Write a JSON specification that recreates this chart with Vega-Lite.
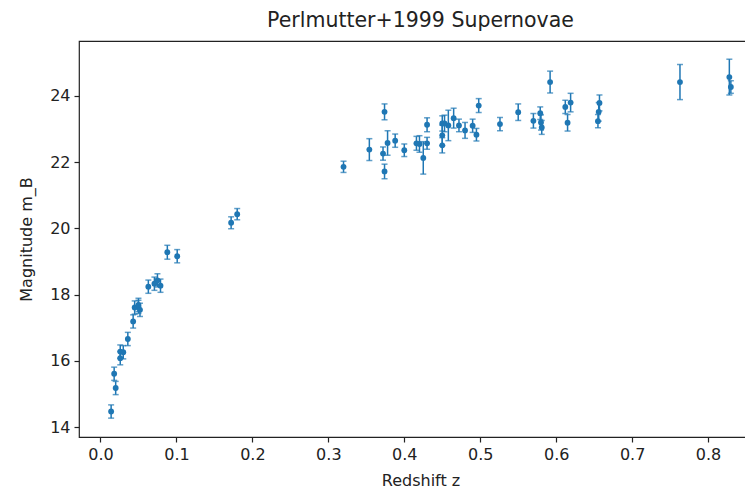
{
  "$schema": "https://vega.github.io/schema/vega-lite/v6.json",
  "width": 683,
  "height": 396,
  "autosize": "none",
  "padding": {"left": 79, "top": 41, "right": 0, "bottom": 53},
  "title": {"text": "Perlmutter+1999 Supernovae", "font": "DejaVu Sans", "fontSize": 20.5, "fontWeight": "normal", "color": "#222", "offset": 10, "anchor": "middle"},
  "config": {
    "view": {"stroke": "#222", "strokeWidth": 1.2},
    "axis": {"domain": false, "grid": false, "tickColor": "#222", "tickSize": 5, "tickWidth": 1.2, "labelFont": "DejaVu Sans", "labelFontSize": 16, "labelColor": "#222", "titleFont": "DejaVu Sans", "titleFontSize": 16, "titleFontWeight": "normal", "titleColor": "#222"}
  },
  "data": {"values": [
    {"name": "1990O", "z": 0.030, "m": 16.26, "err": 0.20},
    {"name": "1990af", "z": 0.050, "m": 17.63, "err": 0.20},
    {"name": "1992P", "z": 0.026, "m": 16.08, "err": 0.20},
    {"name": "1992ae", "z": 0.075, "m": 18.43, "err": 0.20},
    {"name": "1992ag", "z": 0.026, "m": 16.28, "err": 0.20},
    {"name": "1992al", "z": 0.014, "m": 14.47, "err": 0.20},
    {"name": "1992aq", "z": 0.101, "m": 19.16, "err": 0.20},
    {"name": "1992bc", "z": 0.020, "m": 15.18, "err": 0.20},
    {"name": "1992bg", "z": 0.036, "m": 16.66, "err": 0.20},
    {"name": "1992bh", "z": 0.045, "m": 17.61, "err": 0.20},
    {"name": "1992bl", "z": 0.043, "m": 17.19, "err": 0.20},
    {"name": "1992bo", "z": 0.018, "m": 15.61, "err": 0.20},
    {"name": "1992bp", "z": 0.079, "m": 18.27, "err": 0.20},
    {"name": "1992br", "z": 0.088, "m": 19.28, "err": 0.21},
    {"name": "1992bs", "z": 0.063, "m": 18.24, "err": 0.20},
    {"name": "1993B", "z": 0.071, "m": 18.33, "err": 0.20},
    {"name": "1993O", "z": 0.052, "m": 17.54, "err": 0.20},
    {"name": "1993ag", "z": 0.050, "m": 17.69, "err": 0.20},
    {"name": "1992bi", "z": 0.458, "m": 23.11, "err": 0.46},
    {"name": "1994F", "z": 0.354, "m": 22.38, "err": 0.33},
    {"name": "1994G", "z": 0.425, "m": 22.13, "err": 0.49},
    {"name": "1994H", "z": 0.374, "m": 21.72, "err": 0.22},
    {"name": "1994al", "z": 0.420, "m": 22.55, "err": 0.25},
    {"name": "1994am", "z": 0.372, "m": 22.26, "err": 0.20},
    {"name": "1994an", "z": 0.378, "m": 22.58, "err": 0.37},
    {"name": "1995aq", "z": 0.453, "m": 23.17, "err": 0.25},
    {"name": "1995ar", "z": 0.465, "m": 23.33, "err": 0.30},
    {"name": "1995as", "z": 0.498, "m": 23.71, "err": 0.21},
    {"name": "1995at", "z": 0.655, "m": 23.24, "err": 0.20},
    {"name": "1995aw", "z": 0.400, "m": 22.36, "err": 0.19},
    {"name": "1995ax", "z": 0.615, "m": 23.19, "err": 0.25},
    {"name": "1995ay", "z": 0.480, "m": 22.96, "err": 0.24},
    {"name": "1995az", "z": 0.450, "m": 22.51, "err": 0.23},
    {"name": "1995ba", "z": 0.388, "m": 22.65, "err": 0.20},
    {"name": "1996cf", "z": 0.570, "m": 23.25, "err": 0.22},
    {"name": "1996cg", "z": 0.490, "m": 23.10, "err": 0.20},
    {"name": "1996ci", "z": 0.495, "m": 22.83, "err": 0.19},
    {"name": "1996ck", "z": 0.656, "m": 23.52, "err": 0.28},
    {"name": "1996cl", "z": 0.828, "m": 24.57, "err": 0.54},
    {"name": "1996cm", "z": 0.450, "m": 23.17, "err": 0.23},
    {"name": "1996cn", "z": 0.430, "m": 23.13, "err": 0.21},
    {"name": "1997F", "z": 0.580, "m": 23.20, "err": 0.23},
    {"name": "1997G", "z": 0.763, "m": 24.42, "err": 0.53},
    {"name": "1997H", "z": 0.526, "m": 23.15, "err": 0.20},
    {"name": "1997I", "z": 0.172, "m": 20.17, "err": 0.18},
    {"name": "1997J", "z": 0.619, "m": 23.80, "err": 0.28},
    {"name": "1997K", "z": 0.592, "m": 24.42, "err": 0.33},
    {"name": "1997L", "z": 0.550, "m": 23.51, "err": 0.25},
    {"name": "1997N", "z": 0.180, "m": 20.43, "err": 0.17},
    {"name": "1997O", "z": 0.374, "m": 23.52, "err": 0.24},
    {"name": "1997P", "z": 0.472, "m": 23.11, "err": 0.19},
    {"name": "1997Q", "z": 0.430, "m": 22.57, "err": 0.18},
    {"name": "1997R", "z": 0.657, "m": 23.79, "err": 0.24},
    {"name": "1997S", "z": 0.612, "m": 23.67, "err": 0.20},
    {"name": "1997ac", "z": 0.320, "m": 21.86, "err": 0.17},
    {"name": "1997af", "z": 0.579, "m": 23.48, "err": 0.19},
    {"name": "1997ai", "z": 0.450, "m": 22.81, "err": 0.31},
    {"name": "1997aj", "z": 0.581, "m": 23.05, "err": 0.21},
    {"name": "1997am", "z": 0.416, "m": 22.57, "err": 0.21},
    {"name": "1997ap", "z": 0.830, "m": 24.27, "err": 0.19}
  ]},
  "encoding": {
    "x": {"field": "z", "type": "quantitative", "title": "Redshift z",
      "scale": {"domain": [-0.0283, 0.871], "nice": false, "zero": false},
      "axis": {"values": [0, 0.1, 0.2, 0.3, 0.4, 0.5, 0.6, 0.7, 0.8], "format": ".1f", "labelPadding": 4, "titlePadding": 10}},
    "y": {"field": "m", "type": "quantitative", "title": "Magnitude m_B",
      "scale": {"domain": [13.70, 25.66], "nice": false, "zero": false},
      "axis": {"values": [14, 16, 18, 20, 22, 24], "format": "d", "labelPadding": 4, "titlePadding": 15}}
  },
  "layer": [
    {"mark": {"type": "errorbar", "ticks": {"size": 6, "thickness": 1.5}, "rule": {"strokeWidth": 1.5}, "color": "#1f77b4"},
     "encoding": {"yError": {"field": "err"}}},
    {"mark": {"type": "circle", "size": 34, "color": "#1f77b4", "opacity": 1}}
  ]
}
